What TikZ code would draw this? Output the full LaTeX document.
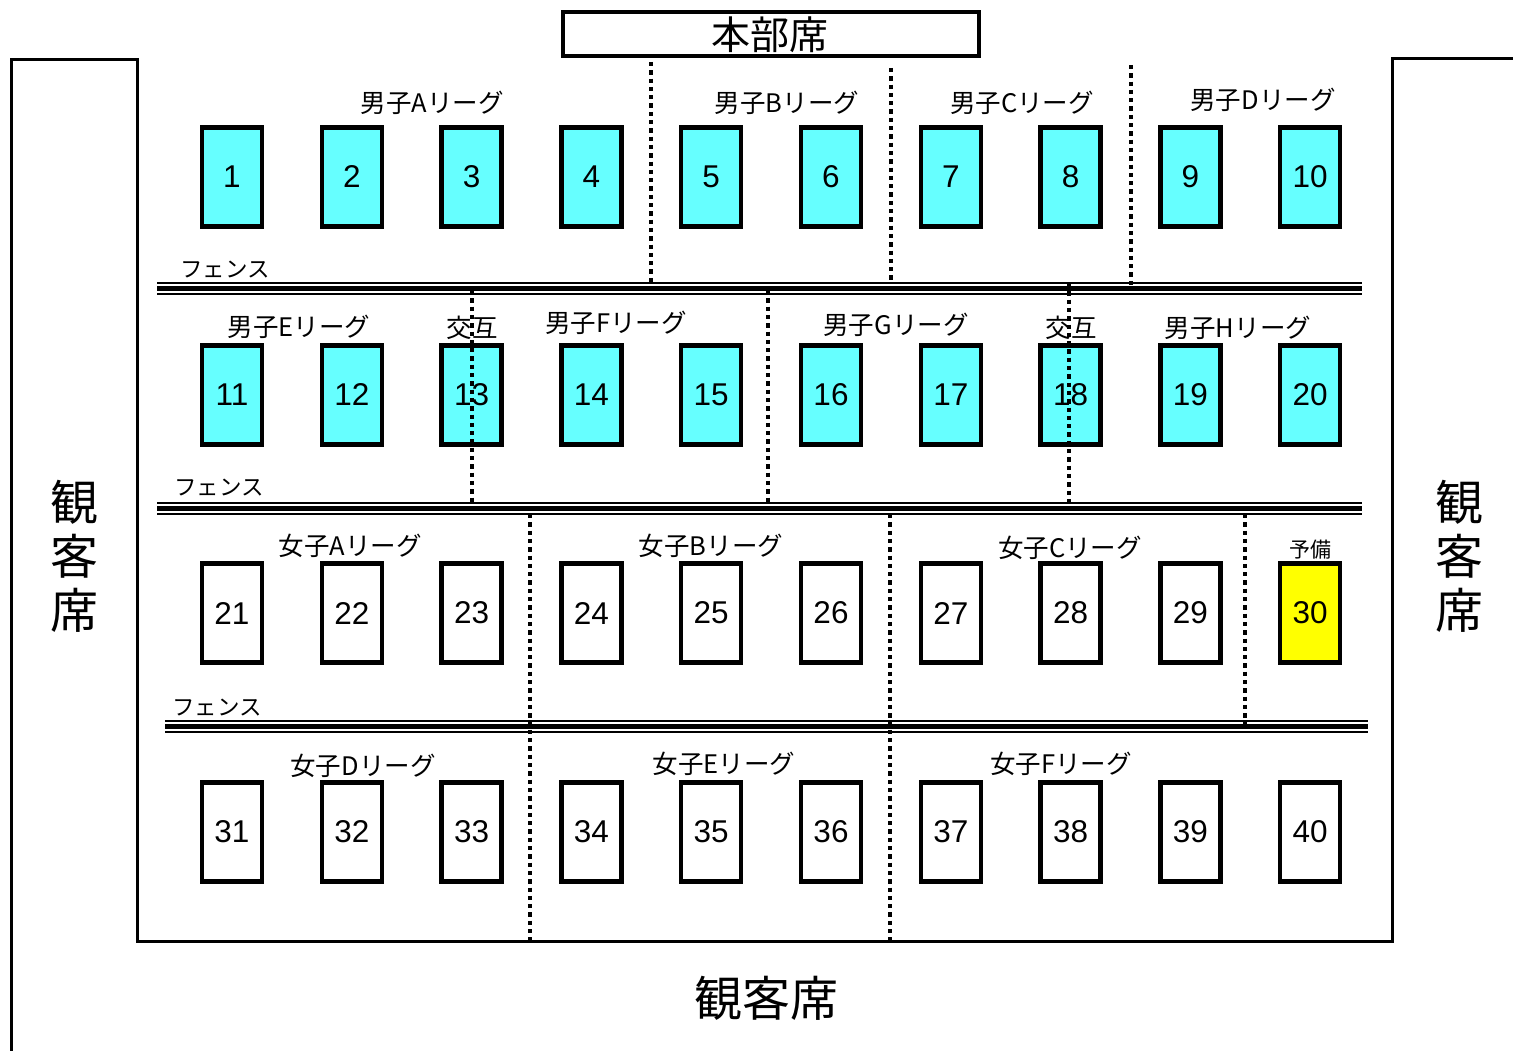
\documentclass[tikz,border=0pt]{standalone}
\usepackage{fontspec}
\setmainfont{Liberation Sans}
\newfontfamily\jp{Noto Sans CJK JP}
\definecolor{seatcyan}{HTML}{66FFFF}
\definecolor{seatyellow}{HTML}{FFFF00}
\begin{document}
\begin{tikzpicture}[x=1pt,y=-1pt,
  seat/.style={draw=black,line width=4.5pt,minimum width=60pt,minimum height=99pt,inner sep=0pt,font=\fontsize{31.5}{31.5}\selectfont},
  cyanseat/.style={seat,fill=seatcyan},
  whiteseat/.style={seat,fill=white},
  yellowseat/.style={seat,fill=seatyellow},
  frameline/.style={line width=3pt},
  fthin/.style={line width=2pt},
  fthick/.style={line width=4.5pt},
  divider/.style={line width=4.5pt,dash pattern=on 4.3pt off 4pt},
  league/.style={font=\jp\fontsize{25.5}{26}\selectfont,inner sep=0pt},
  fencelabel/.style={font=\jp\fontsize{22.5}{22}\selectfont,inner sep=0pt},
  bigtext/.style={font=\jp\fontsize{48}{54}\selectfont,inner sep=0pt,align=center}
]
\useasboundingbox (0,0) rectangle (1513,1051);
\fill[white] (0,0) rectangle (1513,1051);

% frame
\draw[frameline] (11,1051) -- (11,59.3) -- (137.3,59.3) -- (137.3,941) -- (1392.3,941) -- (1392.3,58.7) -- (1513,58.7);

% headquarters
\node[draw,line width=4pt,minimum width=416pt,minimum height=44pt,inner sep=0pt] (hq) at (771,34) {};
\node[font=\jp\fontsize{39}{39}\selectfont,inner sep=0pt] (hqt) at (770,35) {本部席};

% seats
\foreach \i in {1,...,10} {
  \pgfmathsetmacro{\xx}{232+(\i-1)*119.8}
  \node[cyanseat] (b\i) at (\xx,177) {\i};
  \pgfmathtruncatemacro{\j}{\i+10}
  \node[cyanseat] (b\j) at (\xx,395) {\j};
  \pgfmathtruncatemacro{\k}{\i+30}
  \node[whiteseat] (b\k) at (\xx,832) {\k};
}
\foreach \i in {1,...,9} {
  \pgfmathsetmacro{\xx}{232+(\i-1)*119.8}
  \pgfmathtruncatemacro{\j}{\i+20}
  \node[whiteseat] (b\j) at (\xx,613) {\j};
}
\node[yellowseat] (b30) at (1310.2,613) {30};

% fences
\foreach \y/\a/\b in {283/157/1362, 503/157/1362, 721/165/1368} {
  \draw[fthin] (\a,\y) -- (\b,\y);
  \draw[fthick] (\a,\y+5.5) -- (\b,\y+5.5);
  \draw[fthin] (\a,\y+11) -- (\b,\y+11);
}
\node[fencelabel] (f1) at (225,270) {フェンス};
\node[fencelabel] (f2) at (219,488) {フェンス};
\node[fencelabel] (f3) at (217,708) {フェンス};

% dividers
\draw[divider] (651,62) -- (651,283);
\draw[divider] (891,68) -- (891,283);
\draw[divider] (1131,65) -- (1131,285);
\draw[divider] (472,290) -- (472,503);
\draw[divider] (768,290) -- (768,503);
\draw[divider] (1069,283) -- (1069,503);
\draw[divider] (530,514) -- (530,945);
\draw[divider] (890,514) -- (890,945);
\draw[divider] (1245,514) -- (1245,727);

% league labels
\node[league] (lA) at (432,103) {男子Aリーグ};
\node[league] (lB) at (787,103) {男子Bリーグ};
\node[league] (lC) at (1022,103) {男子Cリーグ};
\node[league] (lD) at (1263,100) {男子Dリーグ};
\node[league] (lE) at (299,327) {男子Eリーグ};
\node[league] (alt1) at (472,328) {交互};
\node[league] (lF) at (616,323) {男子Fリーグ};
\node[league] (lG) at (896,325) {男子Gリーグ};
\node[league] (alt2) at (1071,328) {交互};
\node[league] (lH) at (1238,328) {男子Hリーグ};
\node[league] (wA) at (350,546) {女子Aリーグ};
\node[league] (wB) at (711,546) {女子Bリーグ};
\node[league] (wC) at (1070,548) {女子Cリーグ};
\node[font=\jp\fontsize{21}{21}\selectfont,inner sep=0pt] (res) at (1310,550) {予備};
\node[league] (wD) at (363,766) {女子Dリーグ};
\node[league] (wE) at (724,764) {女子Eリーグ};
\node[league] (wF) at (1061,764) {女子Fリーグ};

% spectator seats
\node[bigtext] (sl) at (74,556) {観\\客\\席};
\node[bigtext] (sr) at (1459,556) {観\\客\\席};
\node[bigtext] (sb) at (766,998) {観客席};
\end{tikzpicture}
\end{document}
